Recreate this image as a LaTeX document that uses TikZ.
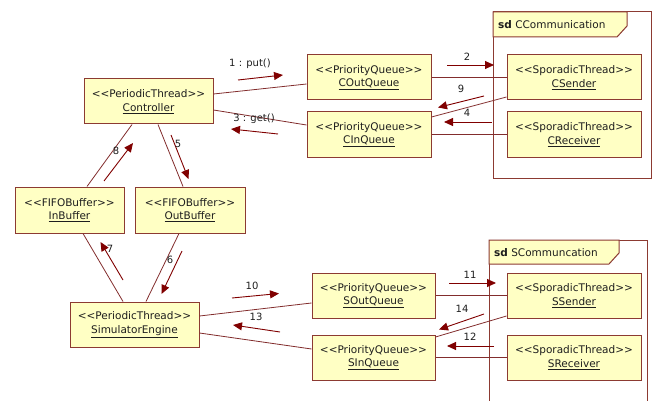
\documentclass[tikz,border=0pt]{standalone}
\usepackage{fontspec}
\setmainfont{DejaVu Sans}
\usetikzlibrary{arrows.meta,calc}
\newcommand\stl{<\kern0pt<}
\newcommand\stg{>\kern0pt>}
\definecolor{boxfill}{RGB}{255,255,196}
\definecolor{boxline}{RGB}{140,58,50}
\definecolor{linkc}{RGB}{130,45,45}
\definecolor{msgc}{RGB}{128,0,0}
\definecolor{txt}{RGB}{30,30,30}
\begin{document}
\begin{tikzpicture}[x=1pt,y=-1pt,
  obj/.style={draw=boxline,fill=boxfill,line width=1pt,minimum height=45pt,
    inner sep=0pt,align=center,font=\fontsize{10.5}{13.5}\selectfont,text=txt},
  link/.style={draw=linkc,line width=0.8pt},
  msg/.style={draw=msgc,line width=0.9pt,-{Triangle[length=9pt,width=8pt]}},
  lbl/.style={font=\fontsize{10}{12}\selectfont,text=txt,inner sep=0pt},
  frm/.style={draw=boxline,line width=1pt},
  ]
\useasboundingbox (0,0) rectangle (653,401);
% frames
\draw[frm] (493,12) rectangle (651,178);
\draw[frm,fill=boxfill] (493,12) -- (627,12) -- (627,26) -- (617,37) -- (493,37) -- cycle;
\node[lbl,anchor=west,font=\fontsize{10.5}{12}\selectfont] (fc) at (498,24.5) {\textbf{sd} CCommunication};
\draw[frm] (489,405) -- (489,240) -- (647,240) -- (647,405);
\draw[frm,fill=boxfill] (489,240) -- (619,240) -- (619,253) -- (609,264) -- (489,264) -- cycle;
\node[lbl,anchor=west,font=\fontsize{10.5}{12}\selectfont] (fs) at (494,252.5) {\textbf{sd} SCommuncation};
% objects
\node[obj,minimum width=129pt] (ctrl) at (148.5,101.5) {\stl PeriodicThread\stg\\\underline{Controller}};
\node[obj,minimum width=124pt] (coq) at (369,77.5) {\stl PriorityQueue\stg\\\underline{COutQueue}};
\node[obj,minimum width=124pt] (ciq) at (369,134.5) {\stl PriorityQueue\stg\\\underline{CInQueue}};
\node[obj,minimum width=134pt] (cs) at (574,77.5) {\stl SporadicThread\stg\\\underline{CSender}};
\node[obj,minimum width=134pt] (cr) at (574,134.5) {\stl SporadicThread\stg\\\underline{CReceiver}};
\node[obj,minimum width=109pt,minimum height=46pt] (ib) at (69.5,210) {\stl FIFOBuffer\stg\\\underline{InBuffer}};
\node[obj,minimum width=110pt,minimum height=46pt] (ob) at (190,210) {\stl FIFOBuffer\stg\\\underline{OutBuffer}};
\node[obj,minimum width=129pt] (se) at (134.5,324.5) {\stl PeriodicThread\stg\\\underline{SimulatorEngine}};
\node[obj,minimum width=123pt] (soq) at (373.5,295.5) {\stl PriorityQueue\stg\\\underline{SOutQueue}};
\node[obj,minimum width=123pt] (siq) at (373.5,357.5) {\stl PriorityQueue\stg\\\underline{SInQueue}};
\node[obj,minimum width=134pt] (ss) at (574,295.5) {\stl SporadicThread\stg\\\underline{SSender}};
\node[obj,minimum width=134pt] (sr) at (574,357.5) {\stl SporadicThread\stg\\\underline{SReceiver}};
% links
\draw[link] ([yshift=7.5pt]ctrl.east) -- ([yshift=-6.5pt]coq.west);
\draw[link] ([yshift=-8.5pt]ctrl.east) -- ([yshift=9.5pt]ciq.west);
\draw[link] (coq.east) -- (cs.west);
\draw[link] (ciq.east) -- (cr.west);
\draw[link] ([yshift=17.5pt]ciq.east) -- ([yshift=-19.5pt]cs.west);
\draw[link] ([xshift=-16.5pt]ctrl.south) -- ([xshift=17.5pt]ib.north);
\draw[link] ([xshift=9.5pt]ctrl.south) -- ([xshift=-7pt]ob.north);
\draw[link] ([xshift=13.5pt]ib.south) -- ([xshift=-11.5pt]se.north);
\draw[link] ([xshift=-11pt]ob.south) -- ([xshift=11.5pt]se.north);
\draw[link] ([yshift=8.5pt]se.east) -- ([yshift=-7.5pt]soq.west);
\draw[link] ([yshift=-8.5pt]se.east) -- ([yshift=8.5pt]siq.west);
\draw[link] (soq.east) -- (ss.west);
\draw[link] (siq.east) -- (sr.west);
\draw[link] ([yshift=20.5pt]siq.east) -- ([yshift=-20.5pt]ss.west);
% message arrows
\coordinate (m1a) at (238,80); \coordinate (m1b) at (283,75);
\coordinate (m3a) at (278,134); \coordinate (m3b) at (231,129);
\coordinate (m2a) at (447,65); \coordinate (m2b) at (494,65);
\coordinate (m9a) at (484,96); \coordinate (m9b) at (438,107.5);
\coordinate (m4a) at (492,122); \coordinate (m4b) at (444,122);
\coordinate (m8a) at (104,181); \coordinate (m8b) at (133,143);
\coordinate (m5a) at (171,135); \coordinate (m5b) at (188.5,179);
\coordinate (m7a) at (123,280); \coordinate (m7b) at (100.5,242);
\coordinate (m6a) at (182,251); \coordinate (m6b) at (161.5,294);
\coordinate (m10a) at (232,298); \coordinate (m10b) at (279,293.5);
\coordinate (m13a) at (280,332); \coordinate (m13b) at (233,325);
\coordinate (m11a) at (449,283); \coordinate (m11b) at (496,283);
\coordinate (m14a) at (484,314); \coordinate (m14b) at (439,329.5);
\coordinate (m12a) at (494,346); \coordinate (m12b) at (447,346);
\foreach \m in {1,3,2,9,4,8,5,7,6,10,13,11,14,12}
  \draw[msg] (m\m a) -- (m\m b);
% labels
\node[lbl] (l1) at (250,64) {1 : put()};
\node[lbl] (l3) at (254,119) {3 : get()};
\node[lbl] (l2) at (467,57) {2};
\node[lbl] (l9) at (461,89) {9};
\node[lbl] (l4) at (467,113) {4};
\node[lbl] (l8) at (116,151) {8};
\node[lbl] (l5) at (178,144) {5};
\node[lbl] (l7) at (110,249) {7};
\node[lbl] (l6) at (170,260) {6};
\node[lbl] (l10) at (252,286) {10};
\node[lbl] (l13) at (256,317) {13};
\node[lbl] (l11) at (470,275) {11};
\node[lbl] (l14) at (462,309) {14};
\node[lbl] (l12) at (470,337) {12};
\end{tikzpicture}
\end{document}
